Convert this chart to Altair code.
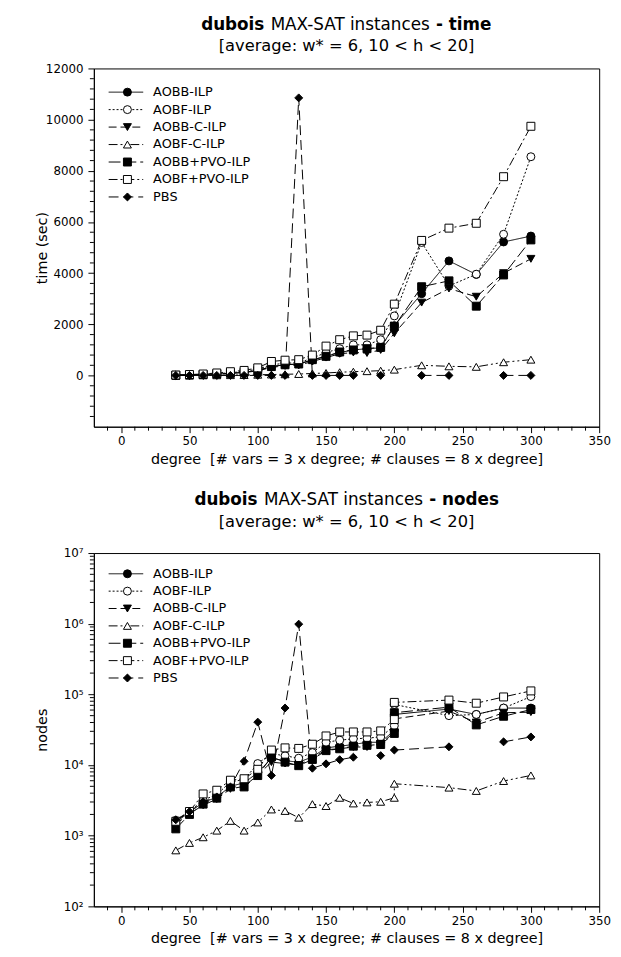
import altair as alt
import pandas as pd

SERIES = ["AOBB-ILP", "AOBF-ILP", "AOBB-C-ILP", "AOBF-C-ILP",
          "AOBB+PVO-ILP", "AOBF+PVO-ILP", "PBS"]

# ---------------- time panel data ----------------
time_deg = [40, 50, 60, 70, 80, 90, 100, 110, 120, 130, 140, 150, 160, 170,
            180, 190, 200, 220, 240, 260, 280, 300]
time_aobb_ilp = [10, 20, 40, 60, 90, 130, 200, 350, 420, 450, 600, 750, 900,
                 1000, 1050, 1080, 1950, 3200, 4480, 3950, 5220, 5450]
time_aobf_ilp = [10, 25, 45, 70, 110, 160, 250, 420, 480, 500, 680, 900, 1050,
                 1200, 1200, 1400, 2330, 5200, 3500, 3960, 5520, 8550]
time_aobb_c_ilp = [10, 18, 35, 55, 80, 120, 180, 320, 380, 400, 550, 700, 850,
                   900, 880, 1000, 1650, 2850, 3400, 3080, 4000, 4560]
time_aobf_c_ilp = [3, 5, 8, 10, 15, 20, 30, 40, 50, 60, 80, 100, 130, 150,
                   170, 190, 230, 400, 360, 340, 520, 620]
time_aobb_pvo_ilp = [10, 20, 40, 60, 90, 130, 200, 350, 420, 450, 620, 750, 920,
                     1000, 1050, 1100, 1920, 3470, 3700, 2710, 3930, 5300]
time_aobf_pvo_ilp = [20, 40, 60, 100, 150, 200, 300, 550, 600, 620, 800, 1150,
                     1400, 1550, 1580, 1770, 2790, 5280, 5760, 5950, 7770, 9740]
time_pbs = [5, 5, 5, 5, 5, 5, 5, 5, 5, 10850, 5, 5, 5, 5, None, 5, None, 5, 5,
            None, 5, 5]

# ---------------- nodes panel data ----------------
nodes_deg = [40, 50, 60, 70, 80, 90, 100, 110, 120, 130, 140, 150, 160, 170,
             180, 190, 200, 200, 240, 260, 280, 300]
nodes_aobb_ilp = [1550, 2150, 2950, 3500, 5000, 5600, 7800, 12500, 11500, 11000,
                  13000, 17500, 18500, 19500, 21000, 21000, 31000, 52000, 62000,
                  52000, 64000, 64000]
nodes_aobf_ilp = [1650, 2200, 3200, 3800, 5800, 6200, 10500, 14500, 13500, 12500,
                  15000, 21000, 22500, 23500, 24000, 25000, 36000, 72000, 50000,
                  52000, 64000, 93000]
nodes_aobb_c_ilp = [1450, 2050, 2700, 3300, 4600, 5000, 7200, 11000, 10500, 10000,
                    12500, 16500, 17000, 18000, 18000, 20000, 29000, 45000, 58000,
                    40000, 55000, 56000]
nodes_aobf_c_ilp = [620, 790, 950, 1180, 1620, 1180, 1540, 2350, 2240, 1800, 2800,
                    2630, 3440, 2860, 2960, 3020, 3440, 5440, 4790, 4300, 5940, 7130]
nodes_aobb_pvo_ilp = [1250, 2000, 2800, 3400, 4900, 4900, 7100, 13000, 11000, 9800,
                      12000, 16000, 17000, 18500, 19000, 19500, 28000, 55000, 66000,
                      37000, 49000, 61000]
nodes_aobf_pvo_ilp = [1600, 2200, 3900, 4400, 6100, 6400, 8700, 16300, 17500, 17200,
                      19700, 25800, 29400, 29400, 29400, 30400, 44000, 77000, 83000,
                      75000, 92000, 112000]
nodes_pbs = [1680, 2190, 3020, 3540, 4900, 11300, 40500, 7130, 64100, 986000, 9020,
             10400, 11900, 12900, None, 13600, None, 16300, 18100, None, 21300, 25000]

# ---------------- axis tick values ----------------
x_major = list(range(0, 351, 50))
x_minor = [v for v in range(-10, 351, 10) if v % 50 != 0]
time_major = list(range(0, 12001, 2000))
time_minor = [v for v in range(-1600, 12001, 400) if v % 2000 != 0]
nodes_major = [10 ** e for e in range(2, 8)]
nodes_minor = [m * 10 ** e for e in range(2, 7) for m in range(2, 10)]

# ---------------- styling ----------------
SHAPES = ["circle", "circle", "triangle-down", "triangle-up", "square", "square", "diamond"]
FILLS = ["black", "white", "black", "white", "black", "white", "black"]
DASHES = [[1, 0], [2, 2], [8, 4], [9, 3, 2, 3, 2, 3], [12, 4], [9, 3, 2, 3], [10, 5]]
SIZES = [65, 65, 80, 80, 62, 62, 100]
FONT = "DejaVu Sans"

W = 512
H1 = 363
H2 = 358
XMIN, XMAX = -20, 350


def px_to_x(px):
    return XMIN + px * (XMAX - XMIN) / W


def build_df(degs, table):
    rows = []
    for s, vals in zip(SERIES, table):
        seg = 0
        for i, (d, v) in enumerate(zip(degs, vals)):
            if v is None:
                seg += 1
                continue
            rows.append(dict(series=s, deg=d, val=v, seg=f"{s}-{seg}", i=i))
    return pd.DataFrame(rows)


def legend_df(y0, dy, y_of):
    rows = []
    for k, s in enumerate(SERIES):
        py = y0 + k * dy
        rows.append(dict(series=s, x1=px_to_x(15), x2=px_to_x(50), xm=px_to_x(34),
                         xt=px_to_x(60), y=y_of(py)))
    return pd.DataFrame(rows)


dash_enc = alt.StrokeDash("series:N", scale=alt.Scale(domain=SERIES, range=DASHES), legend=None)
shape_enc = alt.Shape("series:N", scale=alt.Scale(domain=SERIES, range=SHAPES), legend=None)
fill_enc = alt.Fill("series:N", scale=alt.Scale(domain=SERIES, range=FILLS), legend=None)
size_enc = alt.Size("series:N", scale=alt.Scale(domain=SERIES, range=SIZES), legend=None)

xscale = alt.Scale(domain=[XMIN, XMAX], nice=False, zero=False)
xaxis = alt.Axis(
    values=x_major, format="d", tickSize=6,
    title="degree\u00a0 [# vars = 3 x degree; # clauses = 8 x degree]",
    labelFlush=False, labelOverlap=False, labelPadding=3, titlePadding=6,
)


def title_layers(word, y1, y2, mid_shift, fs=17, fs2=16.5):
    one = pd.DataFrame({"k": [0]})
    mid_w = 9.599 * fs
    sp = 0.318 * fs
    xm = W / 2 + mid_shift
    base = alt.Chart(one)
    t_mid = base.mark_text(text="MAX-SAT instances", font=FONT, fontSize=fs, align="center",
                           baseline="alphabetic", color="black").encode(
        x=alt.value(xm), y=alt.value(y1))
    t_left = base.mark_text(text="dubois", font=FONT, fontSize=fs, fontWeight="bold",
                            align="right", baseline="alphabetic", color="black").encode(
        x=alt.value(xm - mid_w / 2 - sp), y=alt.value(y1))
    t_right = base.mark_text(text="- " + word, font=FONT, fontSize=fs, fontWeight="bold",
                             align="left", baseline="alphabetic", color="black").encode(
        x=alt.value(xm + mid_w / 2 + sp), y=alt.value(y1))
    t_sub = base.mark_text(text="[average: w* = 6, 10 < h < 20]", font=FONT, fontSize=fs2,
                           align="center", baseline="alphabetic", color="black").encode(
        x=alt.value(W / 2), y=alt.value(y2))
    return [t_left, t_mid, t_right, t_sub]


def panel(df, leg, yscale, yaxis, H, y_minor, word, y1, y2, mid_shift):
    x = alt.X("deg:Q", scale=xscale, axis=xaxis)
    y = alt.Y("val:Q", scale=yscale, axis=yaxis)
    lines = alt.Chart(df).mark_line(color="black", strokeWidth=1).encode(
        x=x, y=y, strokeDash=dash_enc, detail="seg:N", order="i:Q")
    pts = alt.Chart(df).mark_point(filled=True, stroke="black", strokeWidth=1, opacity=1).encode(
        x="deg:Q", y="val:Q", shape=shape_enc, fill=fill_enc, size=size_enc)
    lrule = alt.Chart(leg).mark_rule(color="black", strokeWidth=1).encode(
        x="x1:Q", x2="x2:Q", y="y:Q", strokeDash=dash_enc)
    lpts = alt.Chart(leg).mark_point(filled=True, stroke="black", strokeWidth=1, opacity=1).encode(
        x="xm:Q", y="y:Q", shape=shape_enc, fill=fill_enc, size=size_enc)
    ltxt = alt.Chart(leg).mark_text(font=FONT, fontSize=13, align="left", baseline="middle",
                                    color="black").encode(x="xt:Q", y="y:Q", text="series:N")
    xmin_df = pd.DataFrame({"mx": x_minor})
    ymin_df = pd.DataFrame({"my": y_minor})
    xticks = alt.Chart(xmin_df).mark_rule(color="black", strokeWidth=1).encode(
        x="mx:Q", y=alt.value(H), y2=alt.value(H + 4))
    yticks = alt.Chart(ymin_df).mark_rule(color="black", strokeWidth=1).encode(
        y="my:Q", x=alt.value(0), x2=alt.value(-4))
    layers = [lines, pts, lrule, lpts, ltxt, xticks, yticks] + title_layers(word, y1, y2, mid_shift)
    return alt.layer(*layers).properties(width=W, height=H)


time_df = build_df(time_deg, [time_aobb_ilp, time_aobf_ilp, time_aobb_c_ilp, time_aobf_c_ilp,
                              time_aobb_pvo_ilp, time_aobf_pvo_ilp, time_pbs])
nodes_df = build_df(nodes_deg, [nodes_aobb_ilp, nodes_aobf_ilp, nodes_aobb_c_ilp,
                                nodes_aobf_c_ilp, nodes_aobb_pvo_ilp, nodes_aobf_pvo_ilp,
                                nodes_pbs])

time_leg = legend_df(24, 17.7, lambda py: 12000 - py * 14000 / H1)
nodes_leg = legend_df(21, 17.6, lambda py: 10 ** (7 - py * 5 / H2))

time_yscale = alt.Scale(domain=[-2000, 12000], nice=False, zero=False)
time_yaxis = alt.Axis(
    values=time_major, format="d", tickSize=6,
    title="time (sec)", titleX=-45, titleY=H1 / 2, labelPadding=5, labelOverlap=False,
)

nodes_yscale = alt.Scale(type="log", domain=[100, 10 ** 7], nice=False)
nodes_yaxis = alt.Axis(
    values=nodes_major, tickSize=6,
    labelExpr=("datum.value == 100 ? '10\u00b2' : datum.value == 1000 ? '10\u00b3' : "
               "datum.value == 10000 ? '10\u2074' : datum.value == 100000 ? '10\u2075' : "
               "datum.value == 1000000 ? '10\u2076' : '10\u2077'"),
    title="nodes", titleX=-45, titleY=H2 / 2, labelPadding=5, labelOverlap=False,
)

top = panel(time_df, time_leg, time_yscale, time_yaxis, H1, time_minor, "time", -39, -18, 3.7)
bottom = panel(nodes_df, nodes_leg, nodes_yscale, nodes_yaxis, H2, nodes_minor, "nodes",
               -49, -26, -3.1)

chart = alt.vconcat(top, bottom, spacing=24).properties(
    padding={"left": 26, "top": 1, "right": 2, "bottom": 2}
).configure_view(
    stroke="black", strokeWidth=1
).configure_axis(
    domainColor="black", tickColor="black", labelColor="black", titleColor="black",
    grid=False, labelFont=FONT, titleFont=FONT, labelFontSize=12, titleFontSize=14.5,
    titleFontWeight="normal", domainWidth=1, tickWidth=1,
)

chart.save("out.html", embed_options={"renderer": "svg", "actions": False})
